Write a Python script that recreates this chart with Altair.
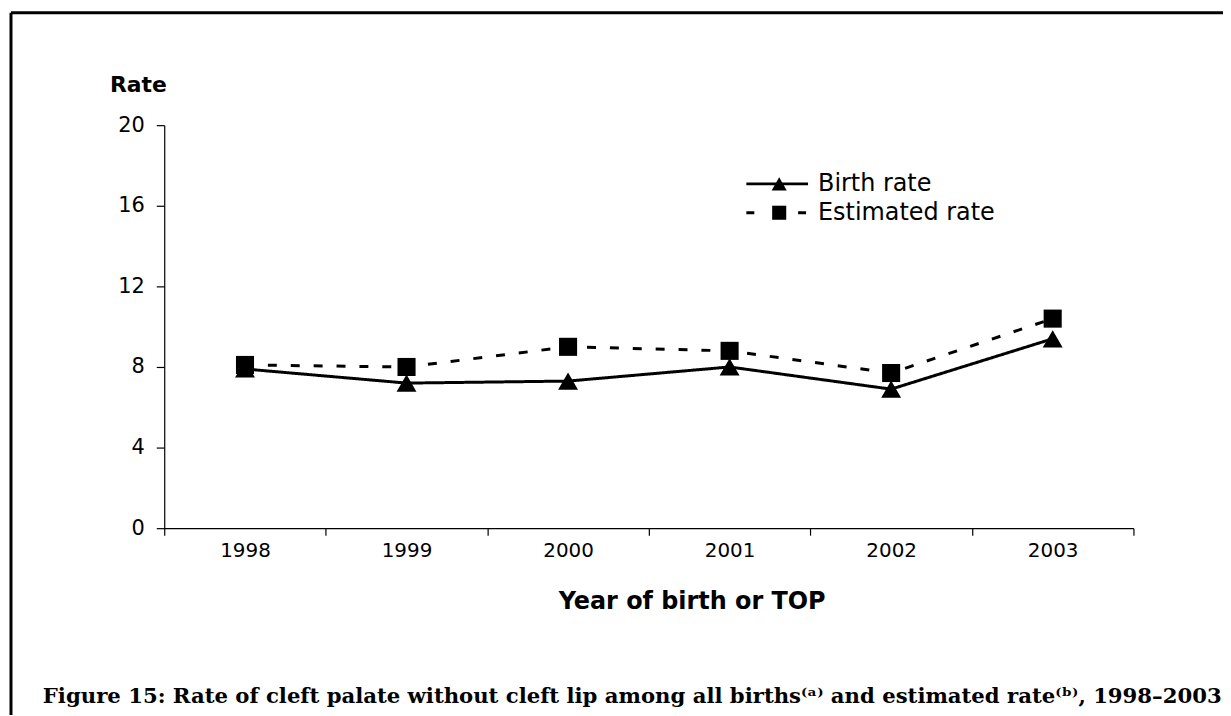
import altair as alt
import pandas as pd

years = ["1998", "1999", "2000", "2001", "2002", "2003"]
birth_rate = [7.9, 7.2, 7.3, 8.0, 6.9, 9.4]
estimated_rate = [8.1, 8.0, 9.0, 8.8, 7.7, 10.4]
series_names = ["Birth rate", "Estimated rate"]
y_ticks = [0, 4, 8, 12, 16, 20]
caption = ("Figure 15: Rate of cleft palate without cleft lip among all births\u207d\u1d43\u207e "
           "and estimated rate\u207d\u1d47\u207e, 1998\u20132003")

rows = []
for y, v in zip(years, birth_rate):
    rows.append({"year": y, "series": series_names[0], "value": v})
for y, v in zip(years, estimated_rate):
    rows.append({"year": y, "series": series_names[1], "value": v})
df = pd.DataFrame(rows)

SANS = "DejaVu Sans"
W, H = 974, 405

x_enc = alt.X("year:N", sort=years,
              scale=alt.Scale(type="band", paddingInner=0, paddingOuter=0),
              axis=alt.Axis(title="Year of birth or TOP", labelAngle=0, tickBand="extent",
                            labelFont=SANS, labelFontSize=20, labelColor="black",
                            labelPadding=5, tickSize=7, tickColor="black", domainColor="black",
                            titleFont=SANS, titleFontSize=24, titleFontWeight="bold",
                            titleColor="black", titleX=530, titleY=81, titleAlign="center",
                            titleBaseline="alphabetic"))
y_enc = alt.Y("value:Q", scale=alt.Scale(domain=[0, 20], nice=False, zero=True),
              axis=alt.Axis(values=y_ticks, title="Rate", grid=False,
                            labelFont=SANS, labelFontSize=21, labelColor="black",
                            labelPadding=12, tickSize=8, tickColor="black", domainColor="black",
                            titleFont=SANS, titleFontSize=22, titleFontWeight="bold",
                            titleColor="black", titleAngle=0, titleX=-55, titleY=-34,
                            titleAlign="left", titleBaseline="alphabetic"))

lines = alt.Chart(df).mark_line(color="black", strokeWidth=3).encode(
    x=x_enc, y=y_enc,
    strokeDash=alt.StrokeDash("series:N", scale=alt.Scale(domain=series_names,
                                                          range=[[1, 0], [9, 14]]), legend=None),
    detail="series:N",
)
points = alt.Chart(df).mark_point(filled=True, color="black", opacity=1).encode(
    x=alt.X("year:N", sort=years), y="value:Q",
    shape=alt.Shape("series:N", scale=alt.Scale(domain=series_names,
                                                range=["triangle-up", "square"]), legend=None),
    size=alt.Size("series:N", scale=alt.Scale(domain=series_names, range=[400, 330]), legend=None),
)

layers = [lines, points]

# manual legend
leg_x0, leg_x1, leg_mx, leg_tx = 585, 647, 618, 657
leg_y = [59, 88]
dashes = [[1, 0], [8, 44]]
shapes = ["triangle-up", "square"]
leg_sizes = [230, 200]
for i, name in enumerate(series_names):
    d = pd.DataFrame({"series": [name]})
    layers.append(alt.Chart(d).mark_rule(color="black", strokeWidth=3, strokeDash=dashes[i]).encode(
        x=alt.value(leg_x0), x2=alt.value(leg_x1), y=alt.value(leg_y[i])))
    layers.append(alt.Chart(d).mark_point(filled=True, color="black", opacity=1, size=leg_sizes[i],
                                          shape=shapes[i]).encode(
        x=alt.value(leg_mx), y=alt.value(leg_y[i])))
    layers.append(alt.Chart(d).mark_text(font=SANS, fontSize=24, color="black", align="left",
                                         baseline="middle").encode(
        x=alt.value(leg_tx), y=alt.value(leg_y[i]), text="series:N"))

# border (top and left edges visible)
bd = pd.DataFrame({"k": [0]})
layers.append(alt.Chart(bd).mark_rule(color="black", strokeWidth=3).encode(
    x=alt.value(-154), x2=alt.value(1200), y=alt.value(-113)))
layers.append(alt.Chart(bd).mark_rule(color="black", strokeWidth=3).encode(
    x=alt.value(-154), y=alt.value(-113), y2=alt.value(700)))

# caption
layers.append(alt.Chart(pd.DataFrame({"t": [caption]})).mark_text(
    font="DejaVu Serif", fontSize=21.3, fontWeight="bold", color="black",
    align="left", baseline="alphabetic").encode(
    x=alt.value(-122), y=alt.value(581), text="t:N"))

chart = alt.layer(*layers).properties(
    width=W, height=H,
    autosize=alt.AutoSizeParams(type="none"),
    padding={"left": 157, "top": 116, "right": 90, "bottom": 186},
).configure_view(stroke=None).configure_axis(domainWidth=1.2, tickWidth=1.2)

chart.save("out.html", embed_options={"renderer": "svg", "actions": False})
